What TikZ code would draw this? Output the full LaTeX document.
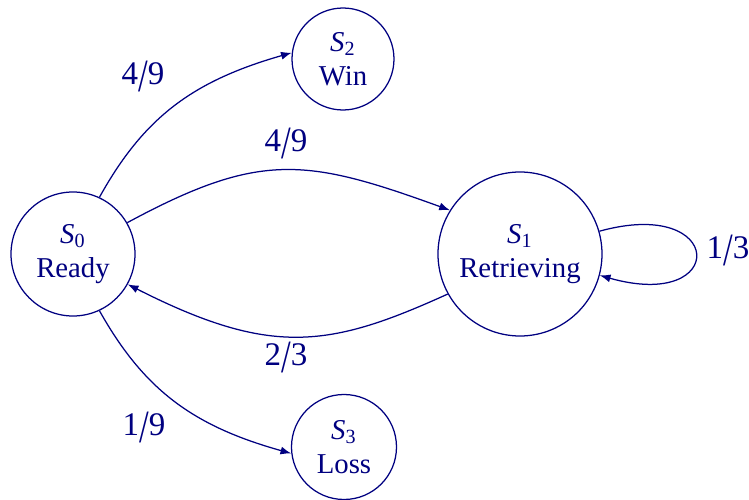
\documentclass[tikz,border=0pt]{standalone}
\usepackage{fontspec}
\setmainfont{Liberation Serif}
\usetikzlibrary{arrows.meta}
\definecolor{ink}{RGB}{0,0,128}
% a taller, slightly lowered fraction slash
\newcommand\fracslash{\raisebox{-0.2em}{\scalebox{1.05}[1.4]{/}}}
\newcommand\prb[2]{#1\fracslash#2}
\begin{document}
\begin{tikzpicture}[x=0.4pt,y=-0.4pt,
  every node/.style={text=ink,font=\fontsize{11.5}{13.6}\selectfont},
  state/.style={draw=ink,line width=0.5pt,circle,inner sep=0pt,align=center},
  edge/.style={draw=ink,line width=0.5pt,-{Latex[length=4.3pt,width=3.2pt]}},
  prob/.style={inner sep=0pt,font=\fontsize{13.2}{15}\selectfont}]
\useasboundingbox (0,0) rectangle (749,500);
% states
\node[state,minimum size=49.6pt] (s0) at (73,254) {\textit{S}\textsubscript{0}\\Ready};
\node[state,minimum size=65.6pt] (s1) at (520,254) {\textit{S}\textsubscript{1}\\Retrieving};
\node[state,minimum size=40.8pt] (s2) at (343,59) {\textit{S}\textsubscript{2}\\Win};
\node[state,minimum size=42pt] (s3) at (344,447) {\textit{S}\textsubscript{3}\\Loss};
% transitions
\draw[edge] (s0.65) .. controls (144,117) and (193,81) .. (s2.173);
\draw[edge] (s0.-65) .. controls (144,390) and (193,426) .. (s3.187);
\draw[edge] (s0.30.6) .. controls (260,151) and (306,158) .. (s1.148.6);
\draw[edge] (s1.209.7) .. controls (329,348) and (271,357) .. (s0.-29.4);
\draw[edge] (s1.16) .. controls (726,196) and (729,312) .. (s1.-15.5);
% probabilities
\node[prob] (p02) at (143,76) {\prb{4}{9}};
\node[prob] (p01) at (286,143) {\prb{4}{9}};
\node[prob] (p10) at (286,357) {\prb{2}{3}};
\node[prob] (p03) at (144,427) {\prb{1}{9}};
\node[prob] (p11) at (728,250) {\prb{1}{3}};
\end{tikzpicture}
\end{document}
